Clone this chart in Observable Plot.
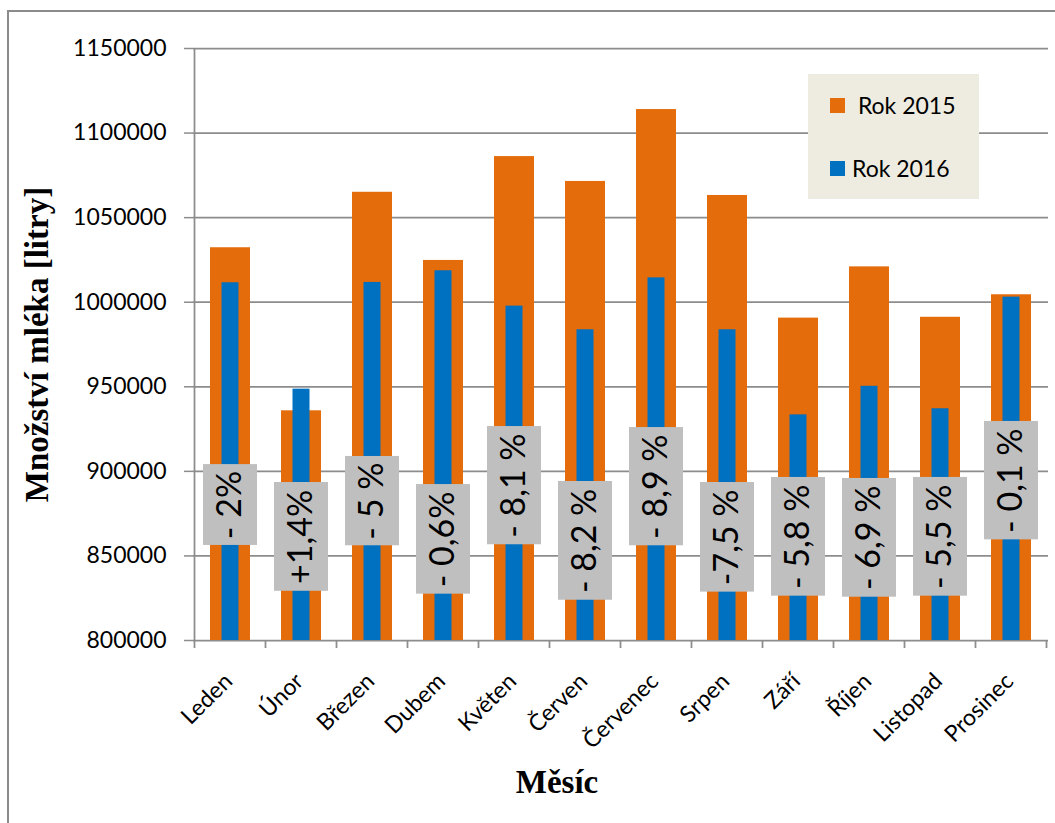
<!DOCTYPE html>
<html>
<head>
<meta charset="utf-8">
<script src="https://cdn.jsdelivr.net/npm/d3@7"></script>
<script src="https://cdn.jsdelivr.net/npm/@observablehq/plot@0.6"></script>
<style>
  html, body { margin: 0; padding: 0; background: white; overflow: hidden; }
  #wrap { position: relative; width: 1055px; height: 823px; overflow: hidden; background: white; }
  #border { position: absolute; left: 7px; top: 10px; width: 1100px; height: 900px; border: 2.5px solid #8b8b8b; pointer-events: none; }
  #legend { position: absolute; left: 808px; top: 74px; width: 171px; height: 125px; background: #EEECE1; font-family: Lato, "Open Sans", sans-serif; font-size: 23px; color: #000; }
  .li { position: absolute; left: 22px; display: flex; align-items: center; }
  .sw { width: 15px; height: 15px; display: inline-block; }
</style>
</head>
<body>
<div id="wrap">
  <div id="chart"></div>
  <div id="legend"></div>
  <div id="border"></div>
</div>
<script>
const months = ["Leden","Únor","Březen","Dubem","Květen","Červen","Červenec","Srpen","Září","Říjen","Listopad","Prosinec"];
const rok2015 = [1032200, 935800, 1065000, 1024700, 1086100, 1071400, 1113900, 1063100, 990600, 1020900, 991100, 1004400];
const rok2016 = [1011500, 948600, 1011700, 1018600, 997700, 983700, 1014400, 983700, 933400, 950300, 937000, 1003000];
const changeLabels = ["- 2%","+1,4%","- 5 %","- 0,6%","- 8,1 %","- 8,2 %","- 8,9 %","-7,5 %","- 5,8 %","- 6,9 %","- 5,5 %","- 0,1 %"];
const labelTop = [904000, 893400, 908800, 892200, 926500, 894000, 925900, 893400, 896400, 895800, 896400, 929500];
const labelBottom = [856200, 829100, 856000, 827400, 856600, 823800, 856000, 828600, 826200, 825600, 826200, 859500];
const yDomain = [800000, 1150000];
const yTicks = [800000, 850000, 900000, 950000, 1000000, 1050000, 1100000, 1150000];
const seriesNames = [" Rok 2015", "Rok 2016"];
const seriesColors = ["#E46C0A", "#0070C0"];
const yTitle = "Množství mléka [litry]";
const xTitle = "Měsíc";

const data = months.map((m, i) => ({
  month: m, v2015: rok2015[i], v2016: rok2016[i],
  change: changeLabels[i], top: labelTop[i], bottom: labelBottom[i]
}));

const gridColor = "#8c8c8c";
const titleFont = "'Liberation Serif', 'Times New Roman', serif";
const plot = Plot.plot({
  width: 1055, height: 823,
  marginLeft: 193, marginRight: 7, marginTop: 48, marginBottom: 183,
  style: { fontFamily: "Lato, 'Open Sans', sans-serif", background: "transparent", overflow: "visible", color: "black" },
  x: { domain: months, paddingInner: 0.44, paddingOuter: 0.22, label: null },
  y: { domain: yDomain, label: null },
  marks: [
    Plot.gridY(yTicks, { stroke: gridColor, strokeOpacity: 1, strokeWidth: 1.75 }),
    Plot.barY(data, { x: "month", y1: () => yDomain[0], y2: "v2015", fill: seriesColors[0] }),
    Plot.barY(data, { x: "month", y1: () => yDomain[0], y2: "v2016", fill: seriesColors[1], insetLeft: 11.5, insetRight: 11.5 }),
    Plot.barY(data, { x: "month", y1: "bottom", y2: "top", fill: "#BFBFBF", insetLeft: -7, insetRight: -7 }),
    Plot.text(data, { x: "month", y: d => (d.top + d.bottom) / 2, text: "change", rotate: -90, fontSize: 34, fill: "black" }),
    Plot.axisY(yTicks, { tickSize: 9, tickPadding: 18, stroke: gridColor, strokeWidth: 1.5, fill: "black", fontSize: 23, tickFormat: d => String(d), label: null }),
    Plot.axisY({ ticks: [], label: yTitle, labelAnchor: "center", labelArrow: false, labelOffset: 169, fontSize: 33, fontWeight: "bold", fontFamily: titleFont, fill: "black" }),
    Plot.axisX({ tickSize: 0, tickRotate: -45, tickPadding: 37, dx: -2, fontSize: 23, fill: "black", label: null }),
    Plot.text([xTitle], { frameAnchor: "bottom", dx: -64, dy: 152, fontSize: 33, fontWeight: "bold", fontFamily: titleFont, fill: "black" })
  ]
});

document.getElementById("chart").appendChild(plot);

// band-boundary ticks and left axis line derived from the plot's scales
const xs = plot.scale("x");
const ys = plot.scale("y");
const svg = d3.select(plot);
const half = (xs.step - xs.bandwidth) / 2;
const bounds = months.map(m => xs.apply(m) - half);
bounds.push(xs.apply(months[months.length - 1]) + xs.bandwidth + half);
const y0 = ys.apply(yDomain[0]);
const y1 = ys.apply(yDomain[1]);
const g = svg.append("g").attr("stroke", gridColor).attr("stroke-width", 1.75);
g.selectAll("line.b").data(bounds).join("line")
  .attr("x1", d => d).attr("x2", d => d).attr("y1", y0).attr("y2", y0 + 8);
g.append("line").attr("x1", bounds[0]).attr("x2", bounds[0]).attr("y1", y0).attr("y2", y1);

// legend
const legend = document.getElementById("legend");
seriesNames.forEach((name, i) => {
  const row = document.createElement("div");
  row.className = "li";
  row.style.top = (i === 0 ? 17 : 80) + "px";
  const sw = document.createElement("span");
  sw.className = "sw";
  sw.style.background = seriesColors[i];
  const t = document.createElement("span");
  t.textContent = name;
  t.style.marginLeft = "7px";
  t.style.whiteSpace = "pre";
  row.appendChild(sw); row.appendChild(t);
  legend.appendChild(row);
});
</script>
</body>
</html>
